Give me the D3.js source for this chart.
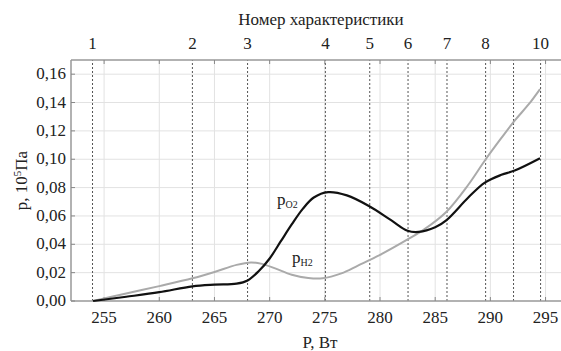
<!DOCTYPE html>
<html>
<head>
<meta charset="utf-8">
<script src="https://cdn.jsdelivr.net/npm/d3@7"></script>
<style>
  body { margin: 0; background: #fff; font-family: "Liberation Serif", serif; }
  #wrap svg text { font-family: "Liberation Serif", serif; }
</style>
</head>
<body>
<div id="wrap"><svg id="chart" width="561" height="351"></svg></div>
<script>
// characteristic markers (top axis)
const charPos = [253.95, 263.0, 268.0, 275.05, 279.07, 282.54, 286.07, 289.57, 292.1, 294.55];
const charLabels = ["1", "2", "3", "4", "5", "6", "7", "8", "", "10"];

const xTicks = [255, 260, 265, 270, 275, 280, 285, 290, 295];
const yTicks = [0, 0.02, 0.04, 0.06, 0.08, 0.10, 0.12, 0.14, 0.16];

// p O2 (black)
const o2P = [254, 257, 260, 263, 265, 267, 268, 269, 270, 271, 272, 273, 274, 275.3, 277, 279, 281, 282.5, 283.5, 285, 286, 288, 289.5, 291, 292.2, 294.5];
const o2V = [0, 0.003, 0.0062, 0.0103, 0.0115, 0.0122, 0.0145, 0.021, 0.03, 0.042, 0.054, 0.065, 0.073, 0.0768, 0.0745, 0.067, 0.057, 0.0495, 0.0487, 0.052, 0.0569, 0.073, 0.0835, 0.089, 0.092, 0.1007];

// p H2 (gray)
const h2P = [254, 257, 260, 263, 265, 267, 268.3, 269.3, 270.5, 272, 273.5, 274.8, 276.5, 278, 280, 282.5, 284, 286, 288, 289.5, 291, 292.2, 293.5, 294.5];
const h2V = [0, 0.0053, 0.0105, 0.016, 0.0205, 0.0255, 0.0272, 0.0262, 0.023, 0.0185, 0.0162, 0.016, 0.0195, 0.025, 0.0325, 0.0434, 0.0505, 0.0628, 0.082, 0.0991, 0.115, 0.1272, 0.139, 0.1495];

const width = 561;
const height = 351;
const margin = {top: 60, right: 0, bottom: 50, left: 71};
const serif = "Liberation Serif";

const svg = d3.select("#chart");

const x = d3.scaleLinear()
    .domain([252, 296.4])
    .range([margin.left, width - margin.right]);

const y = d3.scaleLinear()
    .domain([0, 0.17])
    .range([height - margin.bottom, margin.top]);

const fmt = d => d3.format(".2f")(d).replace(".", ",");

// grid
svg.append("g")
    .selectAll("line")
    .data(xTicks)
    .join("line")
    .attr("x1", d => x(d)).attr("x2", d => x(d))
    .attr("y1", y(0)).attr("y2", y(0.17))
    .attr("stroke", "#e2e2e2");

svg.append("g")
    .selectAll("line")
    .data(yTicks.slice(1))
    .join("line")
    .attr("x1", x(252)).attr("x2", x(296.4))
    .attr("y1", d => y(d)).attr("y2", d => y(d))
    .attr("stroke", "#e2e2e2");

// characteristic lines
svg.append("g")
    .selectAll("line")
    .data(charPos)
    .join("line")
    .attr("x1", d => x(d)).attr("x2", d => x(d))
    .attr("y1", y(0)).attr("y2", y(0.17))
    .attr("stroke", "#555")
    .attr("stroke-dasharray", "2,2");

// frame
const frame = svg.append("g").attr("stroke", "#999").attr("stroke-width", 1.5);
frame.append("line").attr("x1", x(252)).attr("x2", x(296.4)).attr("y1", y(0)).attr("y2", y(0));
frame.append("line").attr("x1", x(252)).attr("x2", x(296.4)).attr("y1", y(0.17)).attr("y2", y(0.17));
frame.append("line").attr("x1", x(252)).attr("x2", x(252)).attr("y1", y(0)).attr("y2", y(0.17));

// ticks on bottom and top axes (inside)
svg.append("g")
    .selectAll("line")
    .data(xTicks)
    .join("line")
    .attr("x1", d => x(d)).attr("x2", d => x(d))
    .attr("y1", y(0)).attr("y2", y(0) - 4)
    .attr("stroke", "#888");
svg.append("g")
    .selectAll("line")
    .data(xTicks)
    .join("line")
    .attr("x1", d => x(d)).attr("x2", d => x(d))
    .attr("y1", y(0.17)).attr("y2", y(0.17) + 4)
    .attr("stroke", "#888");
svg.append("g")
    .selectAll("line")
    .data(yTicks)
    .join("line")
    .attr("x1", x(252)).attr("x2", x(252) + 4)
    .attr("y1", d => y(d)).attr("y2", d => y(d))
    .attr("stroke", "#888");

// tick labels
svg.append("g")
    .selectAll("text")
    .data(xTicks)
    .join("text")
    .attr("x", d => x(d))
    .attr("y", y(0) + 22)
    .attr("text-anchor", "middle")
    .style("font-family", serif)
    .attr("font-size", 17)
    .attr("fill", "#222")
    .text(d => d);

svg.append("g")
    .selectAll("text")
    .data(yTicks)
    .join("text")
    .attr("x", x(252) - 5)
    .attr("y", d => y(d) + 5)
    .attr("text-anchor", "end")
    .style("font-family", serif)
    .attr("font-size", 17)
    .attr("fill", "#222")
    .text(fmt);

svg.append("g")
    .selectAll("text")
    .data(charPos)
    .join("text")
    .attr("x", d => x(d))
    .attr("y", 49)
    .attr("text-anchor", "middle")
    .style("font-family", serif)
    .attr("font-size", 17)
    .attr("fill", "#222")
    .text((d, i) => charLabels[i]);

// axis titles
svg.append("text")
    .attr("x", 321)
    .attr("y", 25)
    .attr("text-anchor", "middle")
    .style("font-family", serif)
    .attr("font-size", 17)
    .attr("fill", "#222")
    .text("Номер характеристики");

svg.append("text")
    .attr("x", 320)
    .attr("y", 348)
    .attr("text-anchor", "middle")
    .style("font-family", serif)
    .attr("font-size", 17)
    .attr("fill", "#222")
    .text("P, Вт");

const yl = svg.append("text")
    .attr("transform", `translate(27,${y(0.085)}) rotate(-90)`)
    .attr("text-anchor", "middle")
    .style("font-family", serif)
    .attr("font-size", 17)
    .attr("fill", "#222");
yl.append("tspan").text("p, 10");
yl.append("tspan").attr("dy", -6).attr("font-size", 11).text("5");
yl.append("tspan").attr("dy", 6).text("Па");

// curves
const line = d3.line()
    .x(d => x(d[0]))
    .y(d => y(d[1]))
    .curve(d3.curveCatmullRom.alpha(0.5));

svg.append("path")
    .datum(d3.zip(h2P, h2V))
    .attr("fill", "none")
    .attr("stroke", "#aaa")
    .attr("stroke-width", 2)
    .attr("d", line);

svg.append("path")
    .datum(d3.zip(o2P, o2V))
    .attr("fill", "none")
    .attr("stroke", "#111")
    .attr("stroke-width", 2.2)
    .attr("d", line);

// curve labels
const lo = svg.append("text").attr("x", 277).attr("y", 205)
    .style("font-family", serif).attr("font-size", 17).attr("fill", "#222");
lo.append("tspan").text("p");
lo.append("tspan").attr("dy", 3).attr("font-size", 10).text("O2");

const lh = svg.append("text").attr("x", 292).attr("y", 263)
    .style("font-family", serif).attr("font-size", 17).attr("fill", "#222");
lh.append("tspan").text("p");
lh.append("tspan").attr("dy", 3).attr("font-size", 10).text("H2");
</script>
</body>
</html>
